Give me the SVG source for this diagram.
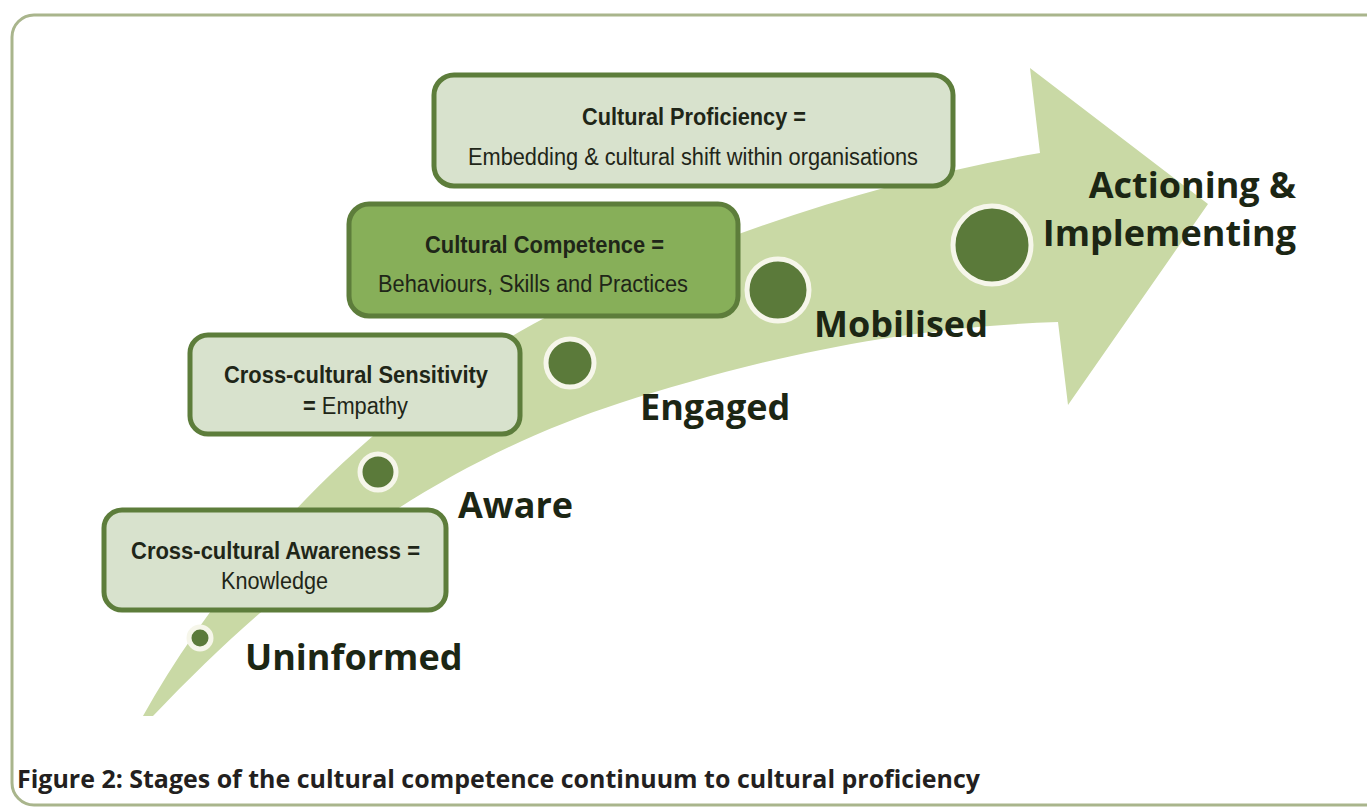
<svg xmlns="http://www.w3.org/2000/svg" width="1367" height="807" viewBox="0 0 1367 807">
<style>
.box{fill:#d8e2cd;stroke:#5d7d3b;stroke-width:5}
.box2{fill:#87af59;stroke:#5d7d3b;stroke-width:5}
.bt{font-family:"Liberation Sans",Arial,sans-serif;font-weight:bold;font-size:23px;fill:#1f2618}
.rt{font-family:"Liberation Sans",Arial,sans-serif;font-size:23px;fill:#1f2618}
.stage{font-family:"Open Sans",sans-serif;font-weight:bold;font-size:36px;fill:#1c2614}
.dot{fill:#5b7a3a;stroke:#f6f6ea;stroke-width:5}
</style>
<rect x="0" y="0" width="1367" height="807" fill="#ffffff"/>
<rect x="12" y="15" width="1400" height="790" rx="22" fill="none" stroke="#a9b58c" stroke-width="3"/>
<g id="arrow">
<path d="M143,716 C230,560 380,400 560,310 C700,240 880,180 1040,153 L1030,68 L1208,204 L1068,405 L1058,322 C880,328 740,365 620,403 C470,452 320,540 153,716 Z" fill="#c9d9a5"/>
</g>
<g id="connectors"></g>
<g id="dots">
<circle class="dot" cx="200" cy="638" r="11"/>
<circle class="dot" cx="378" cy="472" r="18"/>
<circle class="dot" cx="570" cy="363" r="24"/>
<circle class="dot" cx="778" cy="290" r="31"/>
<circle class="dot" cx="992" cy="245" r="39"/>
</g>
<g id="proficiency">
<rect class="box" x="434" y="75" width="519" height="111" rx="20"/>
<text class="bt" x="582" y="125" textLength="224" lengthAdjust="spacingAndGlyphs">Cultural Proficiency =</text>
<text class="rt" x="468" y="165" textLength="450" lengthAdjust="spacingAndGlyphs">Embedding &amp; cultural shift within organisations</text>
</g>
<g id="competence">
<rect class="box2" x="349" y="204" width="389" height="112" rx="20"/>
<text class="bt" x="425" y="253" textLength="239" lengthAdjust="spacingAndGlyphs">Cultural Competence =</text>
<text class="rt" x="378" y="292" textLength="310" lengthAdjust="spacingAndGlyphs">Behaviours, Skills and Practices</text>
</g>
<g id="sensitivity">
<rect class="box" x="190" y="335" width="330" height="99" rx="18"/>
<text class="bt" x="224" y="383" textLength="264" lengthAdjust="spacingAndGlyphs">Cross-cultural Sensitivity</text>
<text class="rt" x="303" y="414" textLength="105" lengthAdjust="spacingAndGlyphs"><tspan font-weight="bold">=</tspan> Empathy</text>
</g>
<g id="awareness">
<rect class="box" x="104" y="510" width="342" height="100" rx="18"/>
<text class="bt" x="131" y="559" textLength="289" lengthAdjust="spacingAndGlyphs">Cross-cultural Awareness =</text>
<text class="rt" x="221" y="589" textLength="107" lengthAdjust="spacingAndGlyphs">Knowledge</text>
</g>
<g id="labels">
<text class="stage" x="245" y="670">Uninformed</text>
<text class="stage" x="458" y="518">Aware</text>
<text class="stage" x="640" y="420">Engaged</text>
<text class="stage" x="814" y="337">Mobilised</text>
<text class="stage" x="1296" y="198" text-anchor="end">Actioning &amp;</text>
<text class="stage" x="1296" y="246" text-anchor="end">Implementing</text>
</g>
<text x="17" y="788" font-family="'Open Sans',sans-serif" font-weight="bold" font-size="25" fill="#231f20" textLength="963" lengthAdjust="spacingAndGlyphs">Figure 2: Stages of the cultural competence continuum to cultural proficiency</text>
</svg>
